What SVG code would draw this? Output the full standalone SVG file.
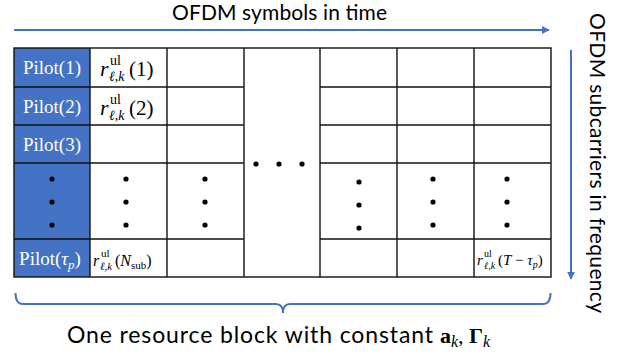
<svg xmlns="http://www.w3.org/2000/svg" width="628" height="356" viewBox="0 0 628 356">
<style>
.grid line{stroke:#111;stroke-width:1.4}
.blue{stroke:#4472C4;stroke-width:2;fill:none}
.lbl{font-family:Lato,"Liberation Sans",sans-serif;fill:#000}
.pil{font-family:"Liberation Serif","DejaVu Serif",serif;fill:#fff;font-size:19px;text-anchor:middle}
.m{font-family:"Liberation Serif","DejaVu Serif",serif;fill:#000}
.it{font-style:italic}
.dot{fill:#000}
</style>
<defs>
<marker id="ah" viewBox="0 0 10 10" refX="9" refY="5" markerWidth="4" markerHeight="4" orient="auto">
<path d="M0,0 L10,5 L0,10 z" fill="#4472C4"/>
</marker>
</defs>
<rect width="628" height="356" fill="#fff"/>

<g id="time-axis">
<text class="lbl" x="172" y="20" font-size="21" textLength="215" lengthAdjust="spacing">OFDM symbols in time</text>
</g>
<g id="freq-axis">
<text class="lbl" transform="translate(590,13) rotate(90)" x="0" y="0" font-size="21" textLength="300" lengthAdjust="spacing">OFDM subcarriers in frequency</text>
</g>

<g id="connectors">
<line class="blue" x1="14" y1="30" x2="549" y2="30" marker-end="url(#ah)"/>
<line class="blue" x1="571" y1="50" x2="571" y2="279" marker-end="url(#ah)"/>
<path class="blue" d="M15.5,293 Q15.5,304 23,304 L276,304 Q283,304 283,313 Q283,304 290,304 L543,304 Q550.5,304 550.5,293"/>
</g>

<g id="pilot-column">
<rect x="14" y="48" width="76" height="229" fill="#4472C4"/>
<text class="pil" x="52" y="74">Pilot(1)</text>
<text class="pil" x="52" y="113">Pilot(2)</text>
<text class="pil" x="52" y="151">Pilot(3)</text>
<text class="pil" x="50" y="265">Pilot(<tspan font-style="italic">τ</tspan><tspan font-style="italic" font-size="13" dy="4">p</tspan><tspan dy="-4">)</tspan></text>
<circle class="dot" cx="52" cy="179" r="2.6"/>
<circle class="dot" cx="52" cy="202" r="2.6"/>
<circle class="dot" cx="52" cy="225" r="2.6"/>
</g>

<g id="grid" class="grid">
<rect x="14" y="48" width="537" height="229" fill="none" stroke="#111" stroke-width="1.4"/>
<line x1="90" y1="48" x2="90" y2="277"/>
<line x1="167" y1="48" x2="167" y2="277"/>
<line x1="244" y1="48" x2="244" y2="277"/>
<line x1="320" y1="48" x2="320" y2="277"/>
<line x1="397" y1="48" x2="397" y2="277"/>
<line x1="474" y1="48" x2="474" y2="277"/>
<line x1="14" y1="87" x2="244" y2="87"/>
<line x1="14" y1="125" x2="244" y2="125"/>
<line x1="14" y1="163" x2="244" y2="163"/>
<line x1="14" y1="239" x2="244" y2="239"/>
<line x1="320" y1="87" x2="551" y2="87"/>
<line x1="320" y1="125" x2="551" y2="125"/>
<line x1="320" y1="163" x2="551" y2="163"/>
<line x1="320" y1="239" x2="551" y2="239"/>
</g>

<g id="cell-r1">
<text class="m it" x="100" y="76" font-size="22">r</text>
<text class="m" x="110" y="65" font-size="14">ul</text>
<text class="m it" x="109" y="81" font-size="14">ℓ,k</text>
<text class="m" x="129" y="76" font-size="21">(1)</text>
</g>
<g id="cell-r2">
<text class="m it" x="100" y="115" font-size="22">r</text>
<text class="m" x="110" y="104" font-size="14">ul</text>
<text class="m it" x="109" y="120" font-size="14">ℓ,k</text>
<text class="m" x="129" y="115" font-size="21">(2)</text>
</g>
<g id="cell-rN">
<text class="m it" x="93" y="266" font-size="16">r</text>
<text class="m" x="101" y="257" font-size="11">ul</text>
<text class="m it" x="100" y="270" font-size="11">ℓ,k</text>
<text class="m" x="115" y="266" font-size="16">(<tspan font-style="italic">N</tspan><tspan font-size="11" dy="3">sub</tspan><tspan dy="-3">)</tspan></text>
</g>
<g id="cell-rT">
<text class="m it" x="477" y="265" font-size="15">r</text>
<text class="m" x="484" y="257" font-size="10">ul</text>
<text class="m it" x="484" y="269" font-size="10">ℓ,k</text>
<text class="m" x="498" y="265" font-size="15">(<tspan font-style="italic">T</tspan> − <tspan font-style="italic">τ</tspan><tspan font-style="italic" font-size="10" dy="3">p</tspan><tspan dy="-3">)</tspan></text>
</g>

<g id="ellipses">
<circle class="dot" cx="256" cy="164" r="2.6"/>
<circle class="dot" cx="279" cy="164" r="2.6"/>
<circle class="dot" cx="302" cy="164" r="2.6"/>
<circle class="dot" cx="126" cy="179" r="2.6"/>
<circle class="dot" cx="126" cy="202" r="2.6"/>
<circle class="dot" cx="126" cy="225" r="2.6"/>
<circle class="dot" cx="205" cy="179" r="2.6"/>
<circle class="dot" cx="205" cy="202" r="2.6"/>
<circle class="dot" cx="205" cy="225" r="2.6"/>
<circle class="dot" cx="359" cy="182" r="2.6"/>
<circle class="dot" cx="359" cy="205" r="2.6"/>
<circle class="dot" cx="359" cy="228" r="2.6"/>
<circle class="dot" cx="433" cy="179" r="2.6"/>
<circle class="dot" cx="433" cy="202" r="2.6"/>
<circle class="dot" cx="433" cy="225" r="2.6"/>
<circle class="dot" cx="507" cy="179" r="2.6"/>
<circle class="dot" cx="507" cy="202" r="2.6"/>
<circle class="dot" cx="507" cy="225" r="2.6"/>
</g>

<g id="block-label">
<text class="lbl" x="67" y="343" font-size="23" textLength="366" lengthAdjust="spacing">One resource block with constant</text>
<text class="m" x="440" y="343" font-size="22"><tspan font-weight="bold">a</tspan><tspan class="it" font-size="16" dy="4">k</tspan><tspan dy="-4">, </tspan><tspan font-weight="bold">Γ</tspan><tspan class="it" font-size="16" dy="4">k</tspan></text>
</g>
</svg>
